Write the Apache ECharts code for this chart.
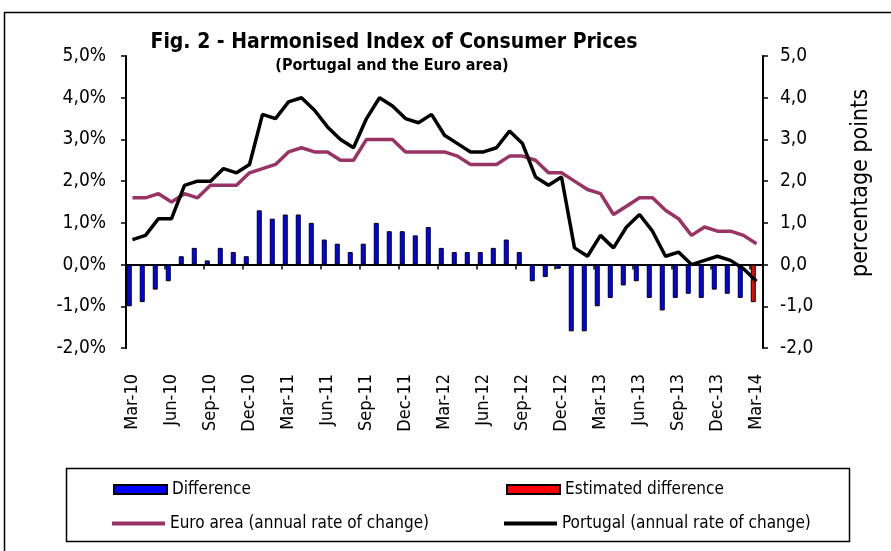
<!DOCTYPE html>
<html>
<head>
<meta charset="utf-8">
<script src="https://cdn.jsdelivr.net/npm/echarts@6/dist/echarts.min.js"></script>
<style>
html,body{margin:0;padding:0;background:#fff;}
#chart{width:891px;height:551px;}
</style>
</head>
<body>
<div id="chart"></div>
<script>
const categories = ["Mar-10","Apr-10","May-10","Jun-10","Jul-10","Aug-10","Sep-10","Oct-10","Nov-10","Dec-10","Jan-11","Feb-11",
"Mar-11","Apr-11","May-11","Jun-11","Jul-11","Aug-11","Sep-11","Oct-11","Nov-11","Dec-11","Jan-12","Feb-12",
"Mar-12","Apr-12","May-12","Jun-12","Jul-12","Aug-12","Sep-12","Oct-12","Nov-12","Dec-12","Jan-13","Feb-13",
"Mar-13","Apr-13","May-13","Jun-13","Jul-13","Aug-13","Sep-13","Oct-13","Nov-13","Dec-13","Jan-14","Feb-14","Mar-14"];

const euroArea = [1.6,1.6,1.7,1.5,1.7,1.6,1.9,1.9,1.9,2.2,2.3,2.4,
2.7,2.8,2.7,2.7,2.5,2.5,3.0,3.0,3.0,2.7,2.7,2.7,
2.7,2.6,2.4,2.4,2.4,2.6,2.6,2.5,2.2,2.2,2.0,1.8,
1.7,1.2,1.4,1.6,1.6,1.3,1.1,0.7,0.9,0.8,0.8,0.7,0.5];

const portugal = [0.6,0.7,1.1,1.1,1.9,2.0,2.0,2.3,2.2,2.4,3.6,3.5,
3.9,4.0,3.7,3.3,3.0,2.8,3.5,4.0,3.8,3.5,3.4,3.6,
3.1,2.9,2.7,2.7,2.8,3.2,2.9,2.1,1.9,2.1,0.4,0.2,
0.7,0.4,0.9,1.2,0.8,0.2,0.3,0.0,0.1,0.2,0.1,-0.1,-0.4];

const difference = [-1.0,-0.9,-0.6,-0.4,0.2,0.4,0.1,0.4,0.3,0.2,1.3,1.1,
1.2,1.2,1.0,0.6,0.5,0.3,0.5,1.0,0.8,0.8,0.7,0.9,
0.4,0.3,0.3,0.3,0.4,0.6,0.3,-0.4,-0.3,-0.1,-1.6,-1.6,
-1.0,-0.8,-0.5,-0.4,-0.8,-1.1,-0.8,-0.7,-0.8,-0.6,-0.7,-0.8,null];

const estimatedDifferenceLast = -0.9;
const estimatedDifference = categories.map((c, i) => i === categories.length - 1 ? estimatedDifferenceLast : null);

const FONT = '"DejaVu Sans Condensed","DejaVu Sans",sans-serif';
const N_DIFF = 'Difference', N_EST = 'Estimated difference',
      N_EA = 'Euro area (annual rate of change)', N_PT = 'Portugal (annual rate of change)';

const chart = echarts.init(document.getElementById('chart'), null, {renderer: 'canvas'});

const legendBase = {
  orient: 'horizontal', itemWidth: 53, itemGap: 5, selectedMode: false,
  textStyle: {fontFamily: FONT, fontSize: 17, color: '#000'}
};

const option = {
  backgroundColor: '#fff',
  animation: false,
  grid: {left: 126, right: 128, top: 56, bottom: 203, containLabel: false},
  legend: [
    Object.assign({}, legendBase, {left: 108, top: 476, itemHeight: 9, data: [{name: N_DIFF, icon: 'rect'}]}),
    Object.assign({}, legendBase, {left: 501, top: 476, itemHeight: 9, data: [{name: N_EST, icon: 'rect'}]}),
    Object.assign({}, legendBase, {left: 107, top: 510, itemHeight: 4, data: [{name: N_EA, icon: 'rect'}]}),
    Object.assign({}, legendBase, {left: 499, top: 510, itemHeight: 4, data: [{name: N_PT, icon: 'rect'}]})
  ],
  xAxis: [
    {
      type: 'category', data: categories, position: 'bottom',
      axisLine: {show: false}, axisTick: {show: false},
      axisLabel: {interval: 2, rotate: 90, margin: 26, fontFamily: FONT, fontSize: 18, color: '#000'},
      splitLine: {show: false}
    },
    {
      type: 'category', data: categories, position: 'bottom',
      axisLine: {show: true, onZero: true, lineStyle: {color: '#000', width: 2}},
      axisTick: {show: true, interval: 2, length: 5, lineStyle: {color: '#000', width: 1.5}},
      axisLabel: {show: false},
      splitLine: {show: false}
    }
  ],
  yAxis: [
    {
      type: 'value', min: -2, max: 5, interval: 1, position: 'left',
      axisLine: {show: true, lineStyle: {color: '#000', width: 2}},
      axisTick: {show: true, length: 5, lineStyle: {color: '#000', width: 1.5}},
      axisLabel: {margin: 20, fontFamily: FONT, fontSize: 19, color: '#000',
        formatter: v => v.toFixed(1).replace('.', ',') + '%'},
      splitLine: {show: false}
    },
    {
      type: 'value', min: -2, max: 5, interval: 1, position: 'right',
      axisLine: {show: true, lineStyle: {color: '#000', width: 2}},
      axisTick: {show: true, length: 5, lineStyle: {color: '#000', width: 1.5}},
      axisLabel: {margin: 17, fontFamily: FONT, fontSize: 19, color: '#000',
        formatter: v => v.toFixed(1).replace('.', ',')},
      splitLine: {show: false}
    }
  ],
  series: [
    {
      name: N_DIFF, type: 'bar', stack: 'diff', xAxisIndex: 0, yAxisIndex: 0,
      barWidth: 5, barGap: '30%', data: difference,
      itemStyle: {color: '#0000FF', borderColor: '#000', borderWidth: 1}
    },
    {
      name: N_EST, type: 'bar', stack: 'diff', xAxisIndex: 0, yAxisIndex: 0,
      barWidth: 5, barGap: '30%', data: estimatedDifference,
      itemStyle: {color: '#FF0000', borderColor: '#000', borderWidth: 1}
    },
    {
      name: 'pad', type: 'bar', xAxisIndex: 0, yAxisIndex: 0,
      barWidth: 5, barGap: '30%', data: categories.map(() => null),
      itemStyle: {color: 'transparent'}
    },
    {
      name: N_EA, type: 'line', xAxisIndex: 0, yAxisIndex: 1, data: euroArea,
      symbol: 'none', color: '#993366', z: 3,
      lineStyle: {color: '#993366', width: 3.5},
      itemStyle: {color: '#993366'}
    },
    {
      name: N_PT, type: 'line', xAxisIndex: 0, yAxisIndex: 1, data: portugal,
      symbol: 'none', color: '#000', z: 4,
      lineStyle: {color: '#000', width: 3.5},
      itemStyle: {color: '#000'}
    }
  ],
  graphic: [
    {type: 'rect', silent: true, shape: {x: 4.5, y: 12.5, width: 950, height: 600},
      style: {fill: 'none', stroke: '#000', lineWidth: 1.5}},
    {type: 'rect', silent: true, shape: {x: 66.5, y: 468.5, width: 783, height: 73},
      style: {fill: 'none', stroke: '#000', lineWidth: 1.5}},
    {type: 'text', silent: true, x: 394, y: 43,
      style: {text: 'Fig. 2 - Harmonised Index of Consumer Prices', fontFamily: FONT, fontWeight: 'bold',
        fontSize: 21, fill: '#000', textAlign: 'center', textVerticalAlign: 'middle'}},
    {type: 'text', silent: true, x: 392, y: 66,
      style: {text: '(Portugal and the Euro area)', fontFamily: FONT, fontWeight: 'bold',
        fontSize: 16, fill: '#000', textAlign: 'center', textVerticalAlign: 'middle'}},
    {type: 'text', silent: true, x: 861, y: 183, rotation: Math.PI / 2,
      style: {text: 'percentage points', fontFamily: FONT, fontSize: 23, fill: '#000',
        textAlign: 'center', textVerticalAlign: 'middle'}}
  ]
};

chart.setOption(option);
</script>
</body>
</html>
